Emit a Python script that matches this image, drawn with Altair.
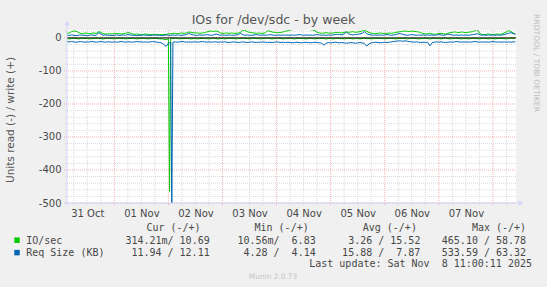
import altair as alt
import pandas as pd

# ---------------- data ----------------
series_names = ["IO/sec", "Req Size (KB)"]
series_colors = ["#00CC00", "#0066B3"]
start_time = "2025-10-31 03:00"   # first hourly sample

# IO/sec write (+)
io_write = [14, 15, 19, 21, 20, 17, 14, 13, 15, 14,
            13, 14, 15, 14, 19, 17, 13, 12, 12, 13,
            12, 13, 14, 13, 12, 13, 14, 16, 15, 12,
            11, 12, 11, 10, 11, 12, 11, 10, 11, 10,
            11, 10, 10, 10, 11, 12, 13, 14, 14, 13,
            14, 15, 14, 15, 18, 17, 16, 15, 15, 14,
            15, 16, 18, 20, 21, 19, 21, 20, 15, 14,
            14, 15, 14, 15, 14, 14, 15, 16, 24, 23,
            19, 17, 16, 15, 14, 15, 14, 14, 15, 22,
            20, 18, 17, 16, 16, 17, 18, 20, 22, 24,
            25, 26, 27, 26, 25, 26, 27, 26, 25, 24,
            22, 17, 15, 14, 15, 16, 15, 14, 15, 16,
            17, 16, 15, 17, 18, 17, 18, 19, 17, 18,
            19, 21, 24, 20, 17, 14, 14, 13, 14, 15,
            14, 13, 14, 15, 14, 15, 17, 18, 19, 20,
            21, 20, 19, 21, 20, 19, 18, 16, 13, 12,
            13, 14, 12, 11, 12, 13, 14, 13, 12, 14,
            16, 17, 18, 17, 16, 18, 17, 16, 17, 18,
            19, 22, 26, 14, 11, 10, 11, 12, 11, 10,
            11, 12, 11, 12, 15, 18, 22, 19, 15, 11]

# IO/sec read (-)
io_read = [-2, -3, -2, -1, -2, -3, -2, -2, -1, -2,
           -3, -2, -2, -1, -2, -2, -3, -2, -1, -2,
           -2, -3, -2, -1, -2, -2, -3, -2, -2, -1,
           -2, -3, -2, -2, -1, -2, -3, -2, -2, -1,
           -2, -3, -3, -4, -5, -3, -2, -2, -1, -2,
           -3, -2, -2, -1, -2, -3, -2, -2, -3, -2,
           -1, -2, -2, -3, -2, -1, -2, -3, -2, -2,
           -3, -2, -1, -2, -2, -3, -2, -2, -1, -2,
           -2, -3, -2, -1, -2, -2, -3, -2, -2, -1,
           -2, -3, -2, -2, -1, -2, -3, -2, -2, -1,
           -2, -3, -2, -1, -2, -2, -3, -2, -1, -2,
           -3, -2, -2, -1, -2, -3, -2, -2, -3, -2,
           -1, -2, -2, -3, -2, -1, -2, -3, -2, -2,
           -3, -2, -1, -2, -2, -3, -2, -2, -1, -2,
           -2, -3, -2, -1, -2, -2, -3, -2, -2, -1,
           -2, -3, -2, -2, -1, -2, -3, -2, -2, -1,
           -2, -3, -2, -1, -2, -2, -3, -2, -1, -2,
           -3, -2, -2, -1, -2, -3, -2, -2, -3, -2,
           -1, -2, -2, -3, -2, -1, -2, -3, -2, -2,
           -3, -2, -1, -2, -2, -3, -2, -1, -1, -0.3]

# Req Size write (+)
req_write = [8, 8, 9, 8, 7, 8, 9, 8, 8, 7,
             8, 9, 8, 8, 16, 12, 8, 9, 8, 8,
             7, 8, 9, 8, 8, 9, 8, 10, 9, 8,
             8, 7, 8, 8, 9, 8, 8, 7, 8, 9,
             8, 8, 7, 8, 9, 8, 8, 9, 8, 9,
             8, 8, 9, 10, 14, 11, 9, 8, 8, 9,
             8, 9, 10, 9, 8, 9, 12, 10, 8, 9,
             8, 8, 9, 8, 8, 9, 10, 14, 10, 8,
             9, 8, 8, 9, 10, 9, 8, 9, 8, 9,
             10, 9, 8, 8, 9, 8, 9, 8, 9, 8,
             9, 8, 9, 10, 9, 8, 9, 8, 9, 8,
             9, 10, 9, 8, 9, 8, 9, 8, 9, 10,
             11, 10, 9, 12, 18, 12, 10, 9, 10, 11,
             12, 14, 19, 13, 10, 9, 8, 9, 8, 9,
             8, 9, 10, 9, 8, 9, 10, 13, 13, 11,
             9, 8, 9, 10, 9, 8, 9, 8, 9, 8,
             9, 8, 9, 8, 9, 10, 9, 8, 9, 12,
             10, 9, 8, 9, 8, 9, 8, 9, 8, 9,
             10, 11, 13, 10, 8, 9, 8, 9, 8, 9,
             8, 9, 8, 9, 10, 12, 14, 16, 13, 12]

# Req Size read (-)
req_read = [-11, -12, -11, -12, -13, -12, -11, -12, -13, -12,
            -12, -11, -12, -13, -12, -11, -12, -13, -12, -12,
            -13, -12, -13, -12, -11, -12, -13, -12, -12, -13,
            -12, -11, -12, -12, -13, -12, -13, -12, -11, -12,
            -13, -14, -15, -20, -26, -16, -13, -13, -12, -13,
            -12, -11, -12, -13, -12, -13, -12, -12, -13, -12,
            -11, -12, -13, -12, -13, -12, -12, -13, -12, -13,
            -12, -13, -14, -13, -12, -13, -14, -13, -12, -13,
            -14, -13, -12, -13, -14, -13, -13, -12, -13, -14,
            -13, -14, -13, -12, -13, -14, -13, -14, -13, -14,
            -15, -14, -13, -14, -15, -14, -13, -14, -15, -14,
            -13, -14, -15, -16, -22, -16, -14, -15, -14, -13,
            -14, -15, -14, -15, -16, -15, -14, -15, -16, -15,
            -14, -15, -17, -25, -18, -15, -14, -13, -14, -15,
            -14, -13, -14, -13, -12, -11, -10, -9, -9, -10,
            -9, -10, -11, -12, -13, -12, -13, -14, -13, -14,
            -13, -24, -15, -13, -12, -13, -12, -13, -14, -13,
            -12, -13, -12, -11, -12, -13, -12, -13, -12, -13,
            -12, -11, -12, -13, -12, -13, -12, -13, -12, -11,
            -12, -13, -12, -13, -12, -13, -12, -13, -12, -12]

# short spikes (half-hour samples)
spike_times = ["2025-11-02 00:30", "2025-11-02 01:30"]
spike_series = ["IO/sec", "Req Size (KB)"]
spike_values = [-465, -533]

# axis ticks
y_major = [-500, -400, -300, -200, -100, 0]
y_minor = [-480, -460, -440, -420, -380, -360, -340, -320, -280, -260, -240, -220,
           -180, -160, -140, -120, -80, -60, -40, -20, 20]
label_days = [(10, 31), (11, 1), (11, 2), (11, 3), (11, 4), (11, 5), (11, 6), (11, 7)]

# legend texts
title_text = "IOs for /dev/sdc - by week"
y_title = "Units read (-) / write (+)"
legend_header = ["Cur (-/+)", "Min (-/+)", "Avg (-/+)", "Max (-/+)"]
io_stats = ["314.21m/ 10.69", "10.56m/\u00a0 6.83", "3.26 / 15.52", "465.10 / 58.78"]
req_stats = ["11.94 / 12.11", "4.28 /\u00a0 4.14", "15.88 /\u00a0 7.87", "533.59 / 63.32"]
last_update = "Last update: Sat Nov \u00a08 11:00:11 2025"
side_text = "RRDTOOL / TOBI OETIKER"
footer_text = "Munin 2.0.73"

# ---------------- frames ----------------
def frame(vals, name, direction):
    t = pd.date_range(start_time, periods=len(vals), freq="h")
    return pd.DataFrame({"t": t, "v": vals, "series": name, "dir": direction})

df = pd.concat([
    frame(io_read, "IO/sec", "read"),
    frame(io_write, "IO/sec", "write"),
    frame(req_read, "Req Size (KB)", "read"),
    frame(req_write, "Req Size (KB)", "write"),
    pd.DataFrame({"t": pd.to_datetime(spike_times), "v": spike_values,
                  "series": spike_series, "dir": "read"}),
], ignore_index=True).sort_values(["series", "dir", "t"])

vmajor = pd.DataFrame({"t": pd.date_range("2025-11-01", "2025-11-08", freq="D")})
vminor_t = pd.date_range("2025-10-31 06:00", "2025-11-08 06:00", freq="6h")
vminor = pd.DataFrame({"t": [t for t in vminor_t if t.hour != 0]})
hmajor = pd.DataFrame({"v": y_major})
hminor = pd.DataFrame({"v": y_minor})

# ---------------- chart ----------------
W, H = 449, 173
L, T = 67, 30
FONT = "DejaVu Sans"
MONO = "DejaVu Sans Mono"
TXT = "#484848"
MAJ = "#F4B0B0"
MIN = "#DADADA"
AXC = "#CFD6F8"

xs = alt.Scale(domain=[alt.DateTime(year=2025, month=10, date=31, hours=3),
                       alt.DateTime(year=2025, month=11, date=8, hours=10, minutes=15)])
ys = alt.Scale(domain=[-500, 24], nice=False, zero=False)

xaxis = alt.Axis(values=[alt.DateTime(year=2025, month=m, date=d, hours=12) for m, d in label_days],
                 format="%d %b", title=None, grid=False, ticks=False, domain=False,
                 labelFont=FONT, labelFontSize=10, labelColor=TXT, labelPadding=5,
                 labelOverlap=False, labelFlush=False, labelBound=False)
yaxis = alt.Axis(values=y_major, labelExpr="'' + datum.value", title=None, grid=False,
                 ticks=False, domain=False, labelFont=FONT, labelFontSize=10,
                 labelColor=TXT, labelPadding=6)

X = alt.X("t:T", scale=xs, axis=xaxis)
Y = alt.Y("v:Q", scale=ys, axis=yaxis)

g_vminor = alt.Chart(vminor).mark_rule(color=MIN, strokeWidth=1, strokeDash=[1, 1]).encode(
    x=X, y=alt.value(0), y2=alt.value(H + 2))
g_vmajor = alt.Chart(vmajor).mark_rule(color=MAJ, strokeWidth=1, strokeDash=[1, 1]).encode(
    x=X, y=alt.value(0), y2=alt.value(H + 3))
g_hminor = alt.Chart(hminor).mark_rule(color=MIN, strokeWidth=1, strokeDash=[1, 1]).encode(
    y=Y, x=alt.value(-2), x2=alt.value(W))
g_hmajor = alt.Chart(hmajor).mark_rule(color=MAJ, strokeWidth=1, strokeDash=[1, 1]).encode(
    y=Y, x=alt.value(-3), x2=alt.value(W))

lines = alt.Chart(df).mark_line(strokeWidth=1.0, clip=True).encode(
    x=X, y=Y,
    color=alt.Color("series:N", scale=alt.Scale(domain=series_names, range=series_colors), legend=None),
    detail="dir:N",
)

zero = alt.Chart(pd.DataFrame({"v": [0]})).mark_rule(color="#000000", strokeWidth=1).encode(
    y=Y, x=alt.value(0), x2=alt.value(W))

one = alt.Data(values=[{}])
ax_x = alt.Chart(one).mark_rule(color=AXC, strokeWidth=1).encode(
    x=alt.value(-2), x2=alt.value(W + 2), y=alt.value(H))
ax_y = alt.Chart(one).mark_rule(color=AXC, strokeWidth=1).encode(
    x=alt.value(0), y=alt.value(-5), y2=alt.value(H + 2))
arr_up = alt.Chart(one).mark_point(shape="triangle-up", filled=True, size=30, color=AXC, opacity=1).encode(
    x=alt.value(0), y=alt.value(-7))
arr_rt = alt.Chart(one).mark_point(shape="triangle-right", filled=True, size=30, color=AXC, opacity=1).encode(
    x=alt.value(W + 5), y=alt.value(H))


def txt(s, x, y, size=10, font=MONO, color=TXT, align="left", angle=None):
    kw = dict(text=s, font=font, fontSize=size, color=color, align=align, baseline="alphabetic")
    if angle is not None:
        kw["angle"] = angle
    return alt.Chart(one).mark_text(**kw).encode(x=alt.value(x - L), y=alt.value(y - T))


texts = [
    txt(title_text, 273.5, 24, size=12.6, font=FONT, color="#555555", align="center"),
    txt(y_title, 14, 120, size=10.5, font=FONT, color="#555555", align="center", angle=270),
    txt(side_text, 534, 63, size=7.6, font=FONT, color="#BDBDBD", align="center", angle=90),
    txt(footer_text, 273, 279, size=7.4, font=FONT, color="#C4C4C4", align="center"),
    txt(last_update, 532, 267, align="right"),
]
col_right_hdr = [200.6, 308.7, 416.9, 526.1]
col_right_val = [209.7, 315.7, 420.4, 526.1]
for s, xr in zip(legend_header, col_right_hdr):
    texts.append(txt(s, xr, 230.5, align="right"))
for s, xr in zip(io_stats, col_right_val):
    texts.append(txt(s, xr, 243.5, align="right"))
for s, xr in zip(req_stats, col_right_val):
    texts.append(txt(s, xr, 256, align="right"))
texts.append(txt(series_names[0], 26.2, 243.5))
texts.append(txt(series_names[1], 26.2, 256))

sw = pd.DataFrame({"series": series_names})
swatch1 = alt.Chart(sw.iloc[[0]]).mark_square(size=30, opacity=1).encode(
    x=alt.value(17 - L), y=alt.value(240.2 - T),
    color=alt.Color("series:N", scale=alt.Scale(domain=series_names, range=series_colors), legend=None))
swatch2 = alt.Chart(sw.iloc[[1]]).mark_square(size=30, opacity=1).encode(
    x=alt.value(17 - L), y=alt.value(252.6 - T),
    color=alt.Color("series:N", scale=alt.Scale(domain=series_names, range=series_colors), legend=None))

chart = alt.layer(
    g_vminor, g_hminor, g_vmajor, g_hmajor, lines, zero, ax_x, ax_y, arr_up, arr_rt,
    swatch1, swatch2, *texts
).properties(
    width=W, height=H,
    padding={"left": L, "top": T, "right": 547 - L - W, "bottom": 287 - T - H},
    autosize=alt.AutoSizeParams(type="none"),
    background="#F0F0F0",
).configure_view(stroke=None, fill="#FFFFFF")

chart.save("out.html", embed_options={"renderer": "svg", "actions": False})
